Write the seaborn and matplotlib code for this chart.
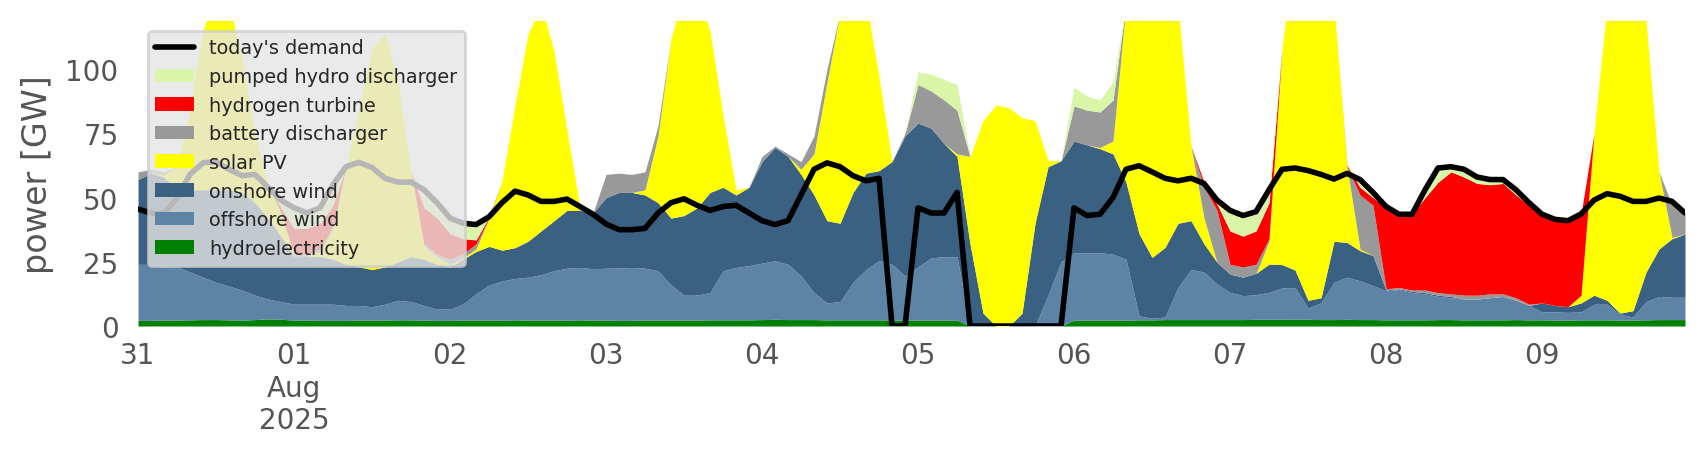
import pandas as pd
import matplotlib
matplotlib.use("Agg")
import matplotlib.pyplot as plt
import matplotlib.dates as mdates
from matplotlib.ticker import FuncFormatter
from matplotlib.lines import Line2D
from matplotlib.patches import Patch
import seaborn as sns

##DATA (2-hourly, GW) starting 31 Jul 2025 00:00
start = "2025-07-31 00:00"

hydro = [2.2, 2.2, 2.3, 2.3, 2.4, 2.5, 2.5, 2.4, 2.3, 2.5, 2.8, 2.6,
         2.3, 2.3, 2.2, 2.2, 2.2, 2.3, 2.3, 2.3, 2.4, 2.4, 2.3, 2.2,
         2.2, 2.3, 2.3, 2.3, 2.3, 2.4, 2.3, 2.3, 2.3, 2.3, 2.4, 2.3,
         2.3, 2.2, 2.2, 2.3, 2.3, 2.3, 2.3, 2.3, 2.4, 2.4, 2.4, 2.4,
         2.5, 2.6, 2.5, 2.5, 2.5, 2.4, 2.4, 2.4, 2.4, 2.4, 2.3, 2.3,
         2.3, 2.3, 2.3, 2.3, 0, 0, 0, 0, 0, 0, 0, 0,
         2.3, 2.3, 2.3, 2.3, 2.3, 2.4, 2.4, 2.5, 2.5, 2.5, 2.5, 2.5,
         2.5, 2.5, 2.6, 2.6, 2.6, 2.7, 2.6, 2.5, 2.5, 2.6, 2.5, 2.5,
         2.4, 2.4, 2.4, 2.4, 2.5, 2.5, 2.4, 2.4, 2.4, 2.4, 2.5, 2.4,
         2.4, 2.3, 2.3, 2.4, 2.4, 2.4, 2.3, 2.3, 2.4, 2.5, 2.5, 2.5]

offshore = [21.8, 21.8, 21.2, 20.7, 18.6, 16.5, 14.5, 13.1, 11.7, 9.5, 7.7, 6.9,
            6.2, 6.2, 6.3, 6.3, 5.8, 5.7, 5.2, 6.2, 7.6, 7.1, 5.7, 4.4,
            4.4, 6.3, 10.2, 13.7, 15.2, 16.1, 16.7, 17.7, 19.2, 20.2, 20.4, 20.0,
            20.2, 20.4, 20.6, 20.2, 19.2, 13.7, 9.7, 9.7, 10.6, 19.1, 20.4, 21.1,
            22.0, 22.8, 21.5, 17.0, 10.5, 6.6, 7.1, 14.6, 19.6, 23.1, 21.7, 17.2,
            20.7, 24.2, 24.7, 24.7, 0, 0, 0, 0, 0, 0, 12, 25,
            26.2, 26.2, 26.2, 25.7, 23.7, 1.6, 0.6, 1.0, 12.5, 19.5, 18.5, 13.8,
            10.6, 9.3, 9.6, 10.5, 12.2, 12.3, 4.4, 6.5, 14.5, 16.4, 15.1, 13.2,
            11.3, 11.8, 10.6, 10.1, 9.0, 8.5, 8.1, 8.1, 8.6, 9.1, 7.5, 5.6,
            3.1, 3.2, 3.0, 3.1, 6.1, 6.1, 2.2, 1.2, 7.1, 9.0, 8.7, 8.7]

onshore = [33, 35.5, 34.5, 30, 32, 34, 36, 37.5, 38, 36, 31.5, 25.5,
           18.5, 18.5, 18.5, 17.5, 16, 15, 14.5, 14.5, 15, 17.5, 18, 17.4,
           16.4, 17.4, 16.5, 15, 12, 12, 14, 17, 19.5, 22.5, 22.2, 21.7,
           27.5, 29.4, 29.2, 28.5, 26.5, 26, 31, 34, 39, 32.5, 28.2, 30.5,
           39.5, 44.1, 42, 39.5, 38, 32, 30.5, 35, 37.5, 35, 40, 54.5,
           56, 50.5, 44, 39, 32, 5, 0, 0, 5, 40, 50, 39.3,
           43.5, 42, 40.5, 39, 30, 32, 23.7, 27.1, 25, 19, 11, 8.5,
           7.1, 7.2, 8.3, 11, 9.1, 6.8, 3, 2, 16, 13.5, 11.7, 11.7,
           0.3, 0.3, 0.5, 0.5, 0.5, 0.5, 0, 0, 0, 0, 0, 0,
           3.5, 2.5, 2.2, 3.5, 3.5, 1.5, 0.5, 2.5, 11.5, 18.5, 22.8, 24.6]

solar = [0, 0, 1, 9, 32, 62, 77, 72, 53, 27, 13, 9,
         0, 0, 2, 12, 38, 62, 86, 91, 70, 33, 5, 3,
         1, 0.5, 1, 11, 27, 55.5, 80.6, 88, 66, 31, 1, 0,
         0, 0, 0, 2, 26, 70, 87, 84, 63, 28, 2, 0,
         0, 0, 0, 2, 16, 54, 82, 80, 67.5, 36.5, 0, 0,
         0, 0, 0, 1, 34, 75, 86, 85, 76, 40, 2.5, 0,
         0, 0, 0.5, 5, 69, 114, 138.3, 129.4, 85, 29, 10, 0,
         0, 0, 0, 8.9, 84.1, 128.2, 150, 139, 92, 29.5, 0.7, 0,
         0, 0, 0, 0, 0, 0, 0, 0, 0, 0, 0, 0,
         0, 0, 0, 3, 63, 115, 145, 139, 98, 30, 0.5, 0]

battery = [3, 1.5, 1, 0, 0, 0, 0, 0, 0, 0, 0, 0,
           1, 1, 1, 1, 0, 0, 0, 0, 0, 0, 1, 1,
           2, 1.5, 2, 0, 0, 0, 0, 0, 0, 0, 0, 0,
           9, 7.5, 7, 7, 4, 0, 0, 0, 0, 0, 0, 0,
           2, 0.5, 1, 3, 7, 5, 0, 0, 0, 0, 0, 1,
           15, 14.5, 17, 17, 0, 0, 0, 0, 0, 0, 0, 0,
           13.7, 13.5, 13.8, 16, 0, 0, 0, 0, 0, 0, 12, 20.2,
           3.8, 4, 3.5, 1, 0, 0, 0, 0, 0, 0, 21, 19.6,
           0.5, 0.5, 0.5, 1, 1, 1, 1.5, 1.5, 1.5, 1, 1, 0.5,
           0, 0, 0, 0, 0, 0, 0, 0, 0, 0, 12.7, 8.2]

hydrogen = [0, 0, 0, 0, 0, 0, 0, 0, 0, 0, 0, 2,
            10, 10, 10, 8, 0, 0, 0, 0, 0, 0, 14, 14,
            10, 6, 1.5, 0.5, 0, 0, 0, 0, 0, 0, 0, 0,
            0, 0, 0, 0, 0, 0, 0, 0, 0, 0, 0, 0,
            0, 0, 0, 0, 0, 0, 0, 0, 0, 0, 0, 0,
            0, 0, 0, 0, 0, 0, 0, 0, 0, 0, 0, 0,
            0, 0, 0, 0, 0, 0, 0, 0, 0, 0, 2, 2.5,
            13, 12, 13, 14, 0, 0, 0, 0, 0, 0.5, 3, 3,
            31.5, 28.5, 29.5, 36, 43, 47.5, 46, 43.5, 42.5, 43, 40, 38.5,
            34, 33, 33, 31.5, 0, 0, 0, 0, 0, 0, 0, 0]

pumped_hydro = [0, 0, 0, 0, 0, 0, 0, 0, 0, 0, 0, 3,
                8, 6, 6, 8, 0, 0, 0, 0, 0, 0, 7, 6,
                6, 6, 6, 0.5, 0, 0, 0, 0, 0, 0, 0, 0,
                0, 0, 0, 0, 0, 0, 0, 0, 0, 0, 0, 0,
                0, 0, 0, 0, 0, 0, 0, 0, 0, 0, 0, 0,
                5, 6.5, 8, 10, 0, 0, 0, 0, 0, 0, 0, 0,
                7.2, 5.5, 4.7, 7, 0, 0, 0, 0, 0, 0, 0, 1.5,
                7.5, 7.5, 7, 4, 0, 0, 0, 0, 0, 0, 2.5, 2,
                0.5, 0.1, 0.1, 3, 5.5, 2, 3, 2.5, 2, 1.5, 2, 1,
                0.5, 0.5, 0.5, 0.1, 0, 0, 0, 0, 0, 0, 0, 0]

demand = [45.5, 44, 43.5, 50, 59, 63.5, 64, 61, 58.5, 59, 54, 49,
          46, 44, 46, 55, 62, 63.7, 61.7, 57.5, 56, 56, 53, 48,
          42, 40, 39.5, 42.5, 48, 52.5, 51, 48.5, 48.5, 49.4, 46.5, 43.5,
          39.7, 37.5, 37.5, 38, 44, 48, 49.5, 47, 45, 46.5, 47, 44,
          41, 39.5, 41, 51, 61, 63.5, 62, 58.5, 56.5, 57.5, 0, 0,
          46, 44, 44, 52, 0, 0, 0, 0, 0, 0, 0, 0,
          46, 43, 43.5, 50, 61, 62.4, 60, 57.5, 56.5, 57.5, 55.5, 49,
          45, 43, 44.5, 53, 61, 61.5, 60.5, 59, 57.2, 59.4, 57, 52,
          46.5, 43.5, 43.5, 53, 61.5, 62, 61, 58, 57, 57, 53, 48,
          43.5, 41.5, 41, 43.6, 49, 51.5, 50.5, 48.5, 48.5, 49.8, 48.5, 44]

labels = ["hydroelectricity", "offshore wind", "onshore wind", "solar PV",
          "battery discharger", "hydrogen turbine", "pumped hydro discharger"]
colors = ["#008000", "#5D84A5", "#3B6182", "#FFFF00",
          "#999999", "#FF0000", "#D8F5A8"]

times = pd.date_range(start, periods=len(demand), freq="2h")

##STYLE
sns.set_style("white")
plt.rcParams["font.family"] = ["DejaVu Sans"]

fig = plt.figure(figsize=(8.53, 2.3), dpi=200)
ax = fig.add_axes([0.0809, 0.2891, 0.9068, 0.6630])

ax.stackplot(times, hydro, offshore, onshore, solar, battery, hydrogen, pumped_hydro,
             colors=colors, linewidth=0)
sns.lineplot(x=times, y=demand, color="black", linewidth=2, ax=ax, legend=False)

ax.set_xlim(times[0], times[-1])
ax.set_ylim(0, 118.7)
ax.set_yticks([0, 25, 50, 75, 100])
ax.set_ylabel("power [GW]", fontsize=12, color="#555555")
ax.set_xlabel("")


def day_label(x, pos):
    d = mdates.num2date(x)
    if d.day == 1:
        return d.strftime("%d\n%b\n%Y")
    return d.strftime("%d")


ax.xaxis.set_major_locator(mdates.DayLocator())
ax.xaxis.set_major_formatter(FuncFormatter(day_label))
ax.tick_params(axis="both", colors="#555555", labelsize=10, direction="out")
ax.tick_params(axis="x", length=2)
for s in ax.spines.values():
    s.set_visible(False)
ax.grid(False)

#LEGEND: demand first, then stack top to bottom
handles = [Line2D([0], [0], color="black", linewidth=2)]
handles += [Patch(facecolor=c, edgecolor="none") for c in colors[::-1]]
names = ["today's demand"] + labels[::-1]
ax.legend(handles, names, loc="upper left", fontsize="x-small",
          facecolor="#E5E5E5", edgecolor="0.8", framealpha=0.8, fancybox=True)

fig.savefig("out.png", dpi=200)
